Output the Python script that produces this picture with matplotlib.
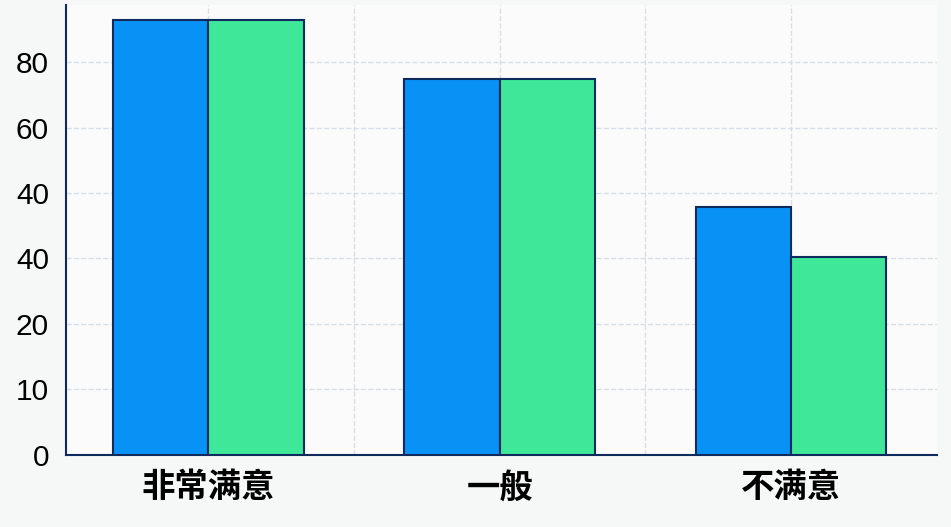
import matplotlib
matplotlib.use('Agg')
import matplotlib.pyplot as plt
import numpy as np

plt.rcParams['font.family'] = ['Noto Sans CJK SC', 'DejaVu Sans']

categories = ['非常满意', '一般', '不满意']
series_a = [66.4, 57.5, 37.9]   # blue bars
series_b = [66.4, 57.5, 30.2]   # green bars
tick_pos = [0, 10, 20, 30, 40, 50, 60]
tick_labels = ['0', '10', '20', '40', '40', '60', '80']

navy = '#0f2a5c'
fig = plt.figure(figsize=(9.51, 5.27), dpi=100, facecolor='#f6f7f7')
ax = fig.add_axes([0.069, 0.137, 0.916, 0.853])
ax.set_facecolor('#fbfbfb')

x = np.arange(len(categories))
w = 0.327
ax.bar(x - w / 2, series_a, w, color='#0992f6', edgecolor=navy, linewidth=1.5, zorder=3)
ax.bar(x + w / 2, series_b, w, color='#3ee898', edgecolor=navy, linewidth=1.5, zorder=3)

ax.set_xlim(-0.49, 2.5)
ax.set_ylim(0, 68.7)
ax.set_yticks(tick_pos)
ax.set_yticklabels(tick_labels, fontsize=21.5, family=['Liberation Sans', 'DejaVu Sans'])
ax.set_xticks(x)
ax.set_xticklabels(categories, fontsize=24, fontweight='bold')
ax.set_xticks([0.5, 1.5], minor=True)
ax.tick_params(axis='both', which='both', length=0)
ax.tick_params(axis='x', pad=12)
ax.tick_params(axis='y', pad=12)

ax.grid(True, which='both', linestyle='--', color='#d8dee6', linewidth=1, zorder=0)

for s in ['top', 'right']:
    ax.spines[s].set_visible(False)
for s in ['left', 'bottom']:
    ax.spines[s].set_color(navy)
    ax.spines[s].set_linewidth(1.5)

plt.savefig('out.png', dpi=100, facecolor=fig.get_facecolor())
